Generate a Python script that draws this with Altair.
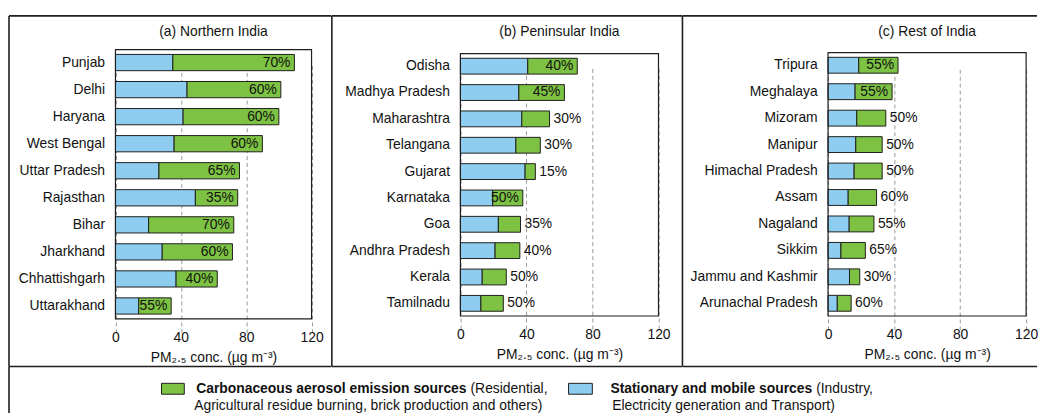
import altair as alt
import pandas as pd

FONT = "Liberation Sans, Arial, Helvetica, sans-serif"

# ---------------- data ----------------
north_states = ["Punjab", "Delhi", "Haryana", "West Bengal", "Uttar Pradesh",
                "Rajasthan", "Bihar", "Jharkhand", "Chhattishgarh", "Uttarakhand"]
north_stationary = [35.1, 43.8, 41.4, 35.9, 26.6, 48.9, 20.3, 28.6, 37.1, 14.2]
north_carbon = [74.4, 57.4, 58.6, 54.0, 49.3, 25.9, 52.1, 43.0, 25.2, 19.9]
north_pct = [70, 60, 60, 60, 65, 35, 70, 60, 40, 55]

pen_states = ["Odisha", "Madhya Pradesh", "Maharashtra", "Telangana", "Gujarat",
              "Karnataka", "Goa", "Andhra Pradesh", "Kerala", "Tamilnadu"]
pen_stationary = [40.8, 35.4, 37.2, 33.6, 39.2, 19.6, 23.0, 21.0, 13.2, 12.4]
pen_carbon = [30.0, 27.6, 16.8, 14.8, 6.2, 18.2, 13.4, 15.0, 14.6, 13.6]
pen_pct = [40, 45, 30, 30, 15, 50, 35, 40, 50, 50]

rest_states = ["Tripura", "Meghalaya", "Mizoram", "Manipur", "Himachal Pradesh",
               "Assam", "Nagaland", "Sikkim", "Jammu and Kashmir", "Arunachal Pradesh"]
rest_stationary = [18.6, 16.4, 17.4, 16.8, 15.8, 12.2, 12.8, 7.8, 13.0, 5.6]
rest_carbon = [23.8, 22.4, 17.6, 16.0, 17.0, 17.2, 15.0, 14.8, 6.2, 8.4]
rest_pct = [55, 55, 50, 50, 50, 60, 55, 65, 30, 60]

panel_titles = ["(a) Northern India", "(b) Peninsular India", "(c) Rest of India"]
x_ticks = [0, 40, 80, 120]
x_title = "PM\u2082.\u2085 conc. (\u00b5g m\u207b\u00b3)"

legend_bold = ["Carbonaceous aerosol emission sources", "Stationary and mobile sources"]
legend_rest = ["(Residential,", "(Industry,"]
legend_line2 = ["Agricultural residue burning, brick production and others)",
                "Electricity generation and Transport)"]

BLUE = "#8ECDF0"
GREEN = "#7DC242"
EDGE = "#1e1e1e"
TXT = "#111111"
FRAME_H = 354
LH = 47

one = pd.DataFrame({"k": [0]})


def legend_layers():
    lg = alt.Chart(one)
    y0 = FRAME_H
    return [
        lg.mark_rule(color=EDGE, strokeWidth=1.6).encode(
            x=alt.value(0), y=alt.value(y0), y2=alt.value(y0 + LH)),
        lg.mark_rect(color=GREEN, stroke=EDGE, strokeWidth=1).encode(
            x=alt.value(154), x2=alt.value(177), y=alt.value(y0 + 17), y2=alt.value(y0 + 28)),
        lg.mark_rect(color=BLUE, stroke=EDGE, strokeWidth=1).encode(
            x=alt.value(565), x2=alt.value(589), y=alt.value(y0 + 17), y2=alt.value(y0 + 28)),
        lg.mark_text(fontSize=14, fontWeight="bold", align="right", baseline="middle", color=TXT).encode(
            x=alt.value(462), y=alt.value(y0 + 23), text=alt.value(legend_bold[0])),
        lg.mark_text(fontSize=14, align="left", baseline="middle", color=TXT).encode(
            x=alt.value(466), y=alt.value(y0 + 23), text=alt.value(legend_rest[0])),
        lg.mark_text(fontSize=14, align="left", baseline="middle", color=TXT).encode(
            x=alt.value(187), y=alt.value(y0 + 40), text=alt.value(legend_line2[0])),
        lg.mark_text(fontSize=14, fontWeight="bold", align="right", baseline="middle", color=TXT).encode(
            x=alt.value(811), y=alt.value(y0 + 23), text=alt.value(legend_bold[1])),
        lg.mark_text(fontSize=14, align="left", baseline="middle", color=TXT).encode(
            x=alt.value(815), y=alt.value(y0 + 23), text=alt.value(legend_rest[1])),
        lg.mark_text(fontSize=14, align="left", baseline="middle", color=TXT).encode(
            x=alt.value(609), y=alt.value(y0 + 40), text=alt.value(legend_line2[1])),
    ]


def make_panel(title, states, stationary, carbon, pct, FW, left, W, top, H, extra=None):
    df = pd.DataFrame({"state": states, "blue": stationary, "green": carbon, "pct": pct})
    xscale = alt.Scale(domain=[0, 120], nice=False, zero=True, range=[left, left + W])
    yscale = alt.Scale(paddingInner=0.4, paddingOuter=0.18, range=[top, top + H])
    xaxis = alt.Axis(values=x_ticks, title=x_title, grid=True, gridDash=[4, 3],
                     gridColor="#9a9a9a", gridWidth=1, ticks=False, tickSize=0,
                     domain=False, labelPadding=12, titlePadding=6, labelFontSize=14,
                     titleFontSize=14, titleFontWeight="normal", labelColor=TXT,
                     titleColor=TXT, labelFlush=False, offset=-(FRAME_H - top - H))
    yaxis = alt.Axis(title=None, ticks=False, tickSize=0, domain=False, labelPadding=11,
                     labelFontSize=14, labelColor=TXT, grid=False, labelLimit=300,
                     offset=-left)
    Y = alt.Y("state:N", sort=states, scale=yscale, axis=yaxis)
    base = alt.Chart(df).transform_calculate(
        total="datum.blue + datum.green", label="datum.pct + '%'")

    blue = base.mark_bar(color=BLUE, stroke=EDGE, strokeWidth=1).encode(
        x=alt.X("blue:Q", scale=xscale, axis=xaxis, stack=None), y=Y)
    green = base.mark_bar(color=GREEN, stroke=EDGE, strokeWidth=1).encode(
        x=alt.X("blue:Q", scale=xscale, axis=xaxis), x2="total:Q", y=Y)
    lab_in = base.transform_filter("datum.green >= 18").mark_text(
        align="right", baseline="middle", dx=-4, fontSize=14, color=TXT).encode(
        x=alt.X("total:Q", scale=xscale, axis=xaxis), y=Y, text="label:N")
    lab_out = base.transform_filter("datum.green < 18").mark_text(
        align="left", baseline="middle", dx=4, fontSize=14, color=TXT).encode(
        x=alt.X("total:Q", scale=xscale, axis=xaxis), y=Y, text="label:N")

    fr = alt.Chart(one)
    plot_box = fr.mark_rect(fill="transparent", stroke=EDGE, strokeWidth=1.2).encode(
        x=alt.value(left), x2=alt.value(left + W), y=alt.value(top), y2=alt.value(top + H))
    top_rule = fr.mark_rule(color=EDGE, strokeWidth=1.6).encode(
        x=alt.value(0), x2=alt.value(FW), y=alt.value(0))
    bot_rule = fr.mark_rule(color=EDGE, strokeWidth=1.6).encode(
        x=alt.value(0), x2=alt.value(FW), y=alt.value(FRAME_H))
    left_rule = fr.mark_rule(color=EDGE, strokeWidth=1.6).encode(
        x=alt.value(0), y=alt.value(0), y2=alt.value(FRAME_H))
    ttl = fr.mark_text(fontSize=14, align="center", baseline="middle", color=TXT).encode(
        x=alt.value(left + W / 2), y=alt.value(16), text=alt.value(title))

    layers = [blue, green, lab_in, lab_out, plot_box, top_rule, bot_rule, left_rule, ttl]
    if extra:
        layers += extra
    return alt.layer(*layers).properties(width=FW, height=FRAME_H)


pa = make_panel(panel_titles[0], north_states, north_stationary, north_carbon, north_pct,
                325.5, 107.5, 198, 34, 272, extra=legend_layers())
pb = make_panel(panel_titles[1], pen_states, pen_stationary, pen_carbon, pen_pct,
                353.5, 129.8, 200, 38, 265)
pc = make_panel(panel_titles[2], rest_states, rest_stationary, rest_carbon, rest_pct,
                358, 147, 200, 37, 266)

chart = alt.hconcat(pa, pb, pc, spacing=0, bounds="flush").properties(
    padding={"left": 0, "top": 5, "right": 0, "bottom": 0}
).configure(font=FONT).configure_view(strokeOpacity=0)

chart.save("out.html", embed_options={"renderer": "svg", "actions": False})
